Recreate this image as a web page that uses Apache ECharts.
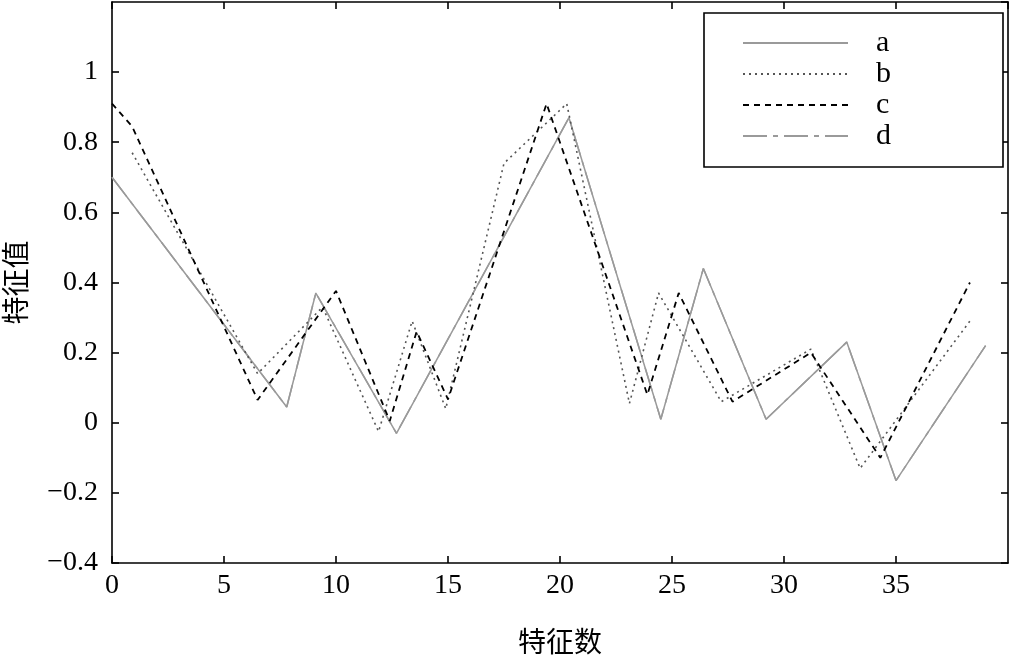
<!DOCTYPE html>
<html>
<head>
<meta charset="utf-8">
<script src="https://cdn.jsdelivr.net/npm/echarts@6/dist/echarts.min.js"></script>
<style>
html,body{margin:0;padding:0;background:#fff;}
#chart{width:1011px;height:661px;}
</style>
</head>
<body>
<div id="chart"></div>
<script>
// ---- data ----
const seriesNames = ['a', 'b', 'c', 'd'];
const xTicks = { min: 0, max: 40, interval: 5 };
const yTicks = { min: -0.4, max: 1.2, interval: 0.2 };
const xTitle = '特征数';
const yTitle = '特征值';

const seriesA = [[0,0.70],[7.8,0.045],[9.1,0.37],[12.7,-0.03],[20.4,0.87],[24.5,0.01],[26.4,0.44],[29.2,0.01],[32.8,0.23],[35.0,-0.165],[39.0,0.22]];
const seriesB = [[0.9,0.77],[6.5,0.14],[9.4,0.33],[11.9,-0.025],[13.4,0.29],[14.9,0.04],[17.5,0.74],[20.3,0.91],[23.1,0.055],[24.4,0.37],[27.2,0.06],[31.2,0.21],[33.4,-0.13],[38.3,0.29]];
const seriesC = [[0,0.91],[0.9,0.845],[6.5,0.065],[10.0,0.376],[12.4,0.005],[13.6,0.26],[15.0,0.067],[19.4,0.91],[23.9,0.08],[25.3,0.37],[27.7,0.06],[31.2,0.2],[34.3,-0.1],[38.3,0.4]];
const seriesD = [[0,0.70],[7.8,0.045],[9.1,0.37],[12.7,-0.03],[20.4,0.87],[24.5,0.01],[26.4,0.44],[29.2,0.01],[32.8,0.23],[35.0,-0.165],[39.0,0.22]];

const serif = 'Liberation Serif, Times New Roman, serif';
const cjk = 'Noto Sans CJK SC, sans-serif';

const chart = echarts.init(document.getElementById('chart'), null, {renderer: 'canvas'});

const axisLine = { show: true, onZero: false, lineStyle: { color: '#000', width: 1.6 } };
const axisTick = { show: true, inside: true, length: 7, lineStyle: { color: '#000', width: 1.6 } };

function fmtY(v) {
  const r = Math.round(v * 10) / 10;
  return String(r).replace('-', '\u2212');
}

const option = {
  animation: false,
  backgroundColor: '#fff',
  grid: { left: 112, right: 3, top: 2, bottom: 98, containLabel: false, outerBoundsMode: 'none' },
  legend: {
    data: seriesNames,
    orient: 'vertical',
    left: 704, top: 13,
    padding: [15, 112, 16, 38],
    itemWidth: 105, itemHeight: 14, itemGap: 1,
    borderColor: '#000', borderWidth: 1.6,
    backgroundColor: '#fff',
    itemStyle: { opacity: 0 },
    textStyle: { fontFamily: serif, fontSize: 30, color: '#000', padding: [0, 0, 0, 23] }
  },
  xAxis: [
    {
      type: 'value', position: 'bottom',
      min: xTicks.min, max: xTicks.max, interval: xTicks.interval,
      axisLine, axisTick,
      splitLine: { show: false },
      axisLabel: { show: true, showMaxLabel: false, fontFamily: serif, fontSize: 28, color: '#000', margin: 9 },
      name: xTitle, nameLocation: 'middle', nameGap: 64,
      nameTextStyle: { fontFamily: cjk, fontSize: 28, color: '#000' }
    },
    {
      type: 'value', position: 'top',
      min: xTicks.min, max: xTicks.max, interval: xTicks.interval,
      axisLine, axisTick,
      splitLine: { show: false },
      axisLabel: { show: false }
    }
  ],
  yAxis: [
    {
      type: 'value', position: 'left',
      min: yTicks.min, max: yTicks.max, interval: yTicks.interval,
      axisLine, axisTick,
      splitLine: { show: false },
      axisLabel: { show: true, showMaxLabel: false, fontFamily: serif, fontSize: 28, color: '#000', margin: 14, formatter: fmtY },
      name: yTitle, nameLocation: 'middle', nameGap: 83, nameRotate: 90,
      nameTextStyle: { fontFamily: cjk, fontSize: 28, color: '#000' }
    },
    {
      type: 'value', position: 'right',
      min: yTicks.min, max: yTicks.max, interval: yTicks.interval,
      axisLine, axisTick,
      splitLine: { show: false },
      axisLabel: { show: false }
    }
  ],
  series: [
    { name: seriesNames[0], type: 'line', data: seriesA, symbol: 'none', xAxisIndex: 0, yAxisIndex: 0,
      lineStyle: { color: '#9a9a9a', width: 1.5, type: 'solid' }, itemStyle: { color: '#9a9a9a' }, z: 2 },
    { name: seriesNames[1], type: 'line', data: seriesB, symbol: 'none', xAxisIndex: 0, yAxisIndex: 0,
      lineStyle: { color: '#555', width: 1.6, type: [2, 4] }, itemStyle: { color: '#555' }, z: 3 },
    { name: seriesNames[2], type: 'line', data: seriesC, symbol: 'none', xAxisIndex: 0, yAxisIndex: 0,
      lineStyle: { color: '#000', width: 1.8, type: [6, 5] }, itemStyle: { color: '#000' }, z: 4 },
    { name: seriesNames[3], type: 'line', data: seriesD, symbol: 'none', xAxisIndex: 0, yAxisIndex: 0,
      lineStyle: { color: '#9a9a9a', width: 1.5, type: [24, 6, 5, 6] }, itemStyle: { color: '#9a9a9a' }, z: 2 }
  ]
};
chart.setOption(option);
</script>
</body>
</html>
